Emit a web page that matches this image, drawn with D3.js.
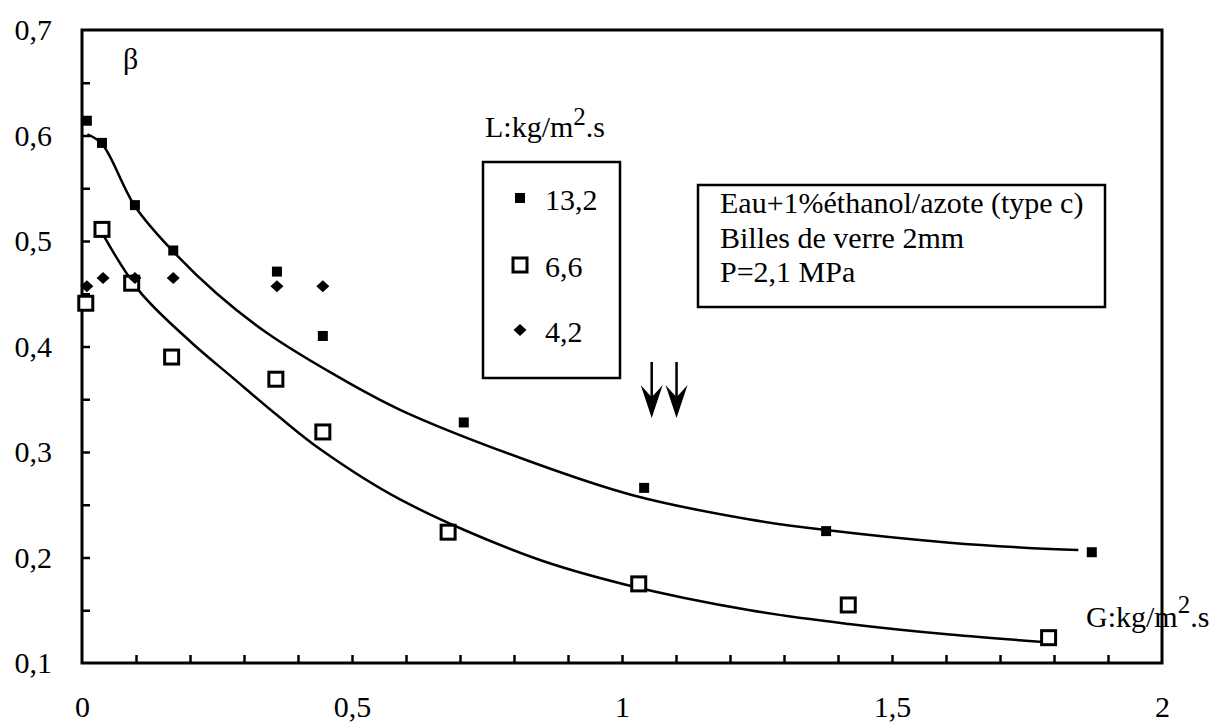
<!DOCTYPE html>
<html>
<head>
<meta charset="utf-8">
<script src="https://cdn.jsdelivr.net/npm/d3@7"></script>
<style>
  html, body { margin: 0; padding: 0; background: #fff; }
  svg { display: block; }
</style>
</head>
<body>
<svg id="chart" width="1217" height="724"></svg>
<script>
// ---- data ----
const seriesNames = ["13,2", "6,6", "4,2"];

const g13 = [0.009, 0.037, 0.098, 0.169, 0.361, 0.446, 0.707, 1.041, 1.378, 1.870];
const b13 = [0.614, 0.593, 0.534, 0.491, 0.471, 0.410, 0.328, 0.266, 0.225, 0.205];

const g66 = [0.007, 0.037, 0.092, 0.166, 0.359, 0.446, 0.678, 1.031, 1.419, 1.790];
const b66 = [0.441, 0.511, 0.460, 0.390, 0.369, 0.319, 0.224, 0.175, 0.155, 0.124];

const g42 = [0.009, 0.039, 0.098, 0.169, 0.361, 0.446];
const b42 = [0.457, 0.465, 0.465, 0.465, 0.457, 0.457];

// hand-drawn fitted curves
const fitUpperG = [0.010, 0.037, 0.098, 0.169, 0.250, 0.342, 0.465, 0.589, 0.835, 1.020, 1.237, 1.378, 1.607, 1.793, 1.845];
const fitUpperB = [0.601, 0.592, 0.533, 0.490, 0.450, 0.413, 0.374, 0.340, 0.290, 0.259, 0.236, 0.226, 0.214, 0.208, 0.207];
const fitLowerG = [0.039, 0.107, 0.200, 0.280, 0.361, 0.440, 0.589, 0.835, 1.009, 1.237, 1.420, 1.607, 1.780];
const fitLowerB = [0.506, 0.452, 0.405, 0.370, 0.335, 0.303, 0.255, 0.200, 0.174, 0.150, 0.137, 0.127, 0.120];

const xTickValues = [0, 0.5, 1, 1.5, 2];
const xTickLabels = ["0", "0,5", "1", "1,5", "2"];
const yTickValues = [0.1, 0.2, 0.3, 0.4, 0.5, 0.6, 0.7];
const yTickLabels = ["0,1", "0,2", "0,3", "0,4", "0,5", "0,6", "0,7"];
const xMinorTicks = d3.range(1, 20).map(i => i / 10);
const yMinorTicks = d3.range(3, 14).map(i => i / 20);

const arrowsG = [1.055, 1.101];
const infoLines = ["Eau+1%éthanol/azote (type c)", "Billes de verre 2mm", "P=2,1 MPa"];

// ---- layout ----
const FONT = '"Liberation Serif"';
const FS = 30;
const svg = d3.select("#chart").attr("font-family", FONT);
const x = d3.scaleLinear().domain([0, 2]).range([82, 1162]);
const y = d3.scaleLinear().domain([0.1, 0.7]).range([663, 30]);

function txt(sel, xp, yp, size) {
  return sel.append("text").attr("x", xp).attr("y", yp)
    .attr("font-family", FONT).attr("font-size", size || FS).attr("fill", "#000");
}

// frame
svg.append("rect")
  .attr("x", x(0)).attr("y", y(0.7))
  .attr("width", x(2) - x(0)).attr("height", y(0.1) - y(0.7))
  .attr("fill", "none").attr("stroke", "#000").attr("stroke-width", 3);

// minor inward ticks
const tickY = svg.append("g").attr("transform", `translate(${x(0)},0)`)
  .call(d3.axisRight(y).tickValues(yMinorTicks).tickSize(8).tickFormat(""));
tickY.select(".domain").remove();
tickY.selectAll("line").attr("stroke-width", 2.5);

const tickX = svg.append("g").attr("transform", `translate(0,${y(0.1)})`)
  .call(d3.axisTop(x).tickValues(xMinorTicks).tickSize(8).tickFormat(""));
tickX.select(".domain").remove();
tickX.selectAll("line").attr("stroke-width", 2.5);

// tick labels
const labY = svg.append("g").attr("transform", `translate(${x(0)},0)`)
  .call(d3.axisLeft(y).tickValues(yTickValues).tickSize(0).tickPadding(30)
    .tickFormat((d, i) => yTickLabels[i]));
labY.select(".domain").remove();
labY.attr("font-family", FONT).attr("font-size", FS);
labY.selectAll("text").attr("font-family", FONT).attr("font-size", FS);

const labX = svg.append("g").attr("transform", `translate(0,${y(0.1)})`)
  .call(d3.axisBottom(x).tickValues(xTickValues).tickSize(0).tickPadding(33)
    .tickFormat((d, i) => xTickLabels[i]));
labX.select(".domain").remove();
labX.attr("font-family", FONT).attr("font-size", FS);
labX.selectAll("text").attr("font-family", FONT).attr("font-size", FS);

// axis names
txt(svg, 123, 69).text("β");
const gl = txt(svg, 1086, 627);
gl.append("tspan").text("G:kg/m");
gl.append("tspan").attr("dy", -14).attr("font-size", 25).text("2");
gl.append("tspan").attr("dy", 14).text(".s");

// fitted curves
const line = d3.line().x(d => x(d[0])).y(d => y(d[1])).curve(d3.curveCatmullRom.alpha(0.5));
[[fitUpperG, fitUpperB], [fitLowerG, fitLowerB]].forEach(([gs, bs]) => {
  svg.append("path")
    .attr("d", line(gs.map((g, i) => [g, bs[i]])))
    .attr("fill", "none").attr("stroke", "#000").attr("stroke-width", 2.5);
});

// markers
function openSquare(sel, cx, cy) {
  sel.append("rect").attr("x", cx - 7).attr("y", cy - 7).attr("width", 14).attr("height", 14)
    .attr("fill", "#fff").attr("stroke", "#000").attr("stroke-width", 3);
}
function filledSquare(sel, cx, cy) {
  sel.append("rect").attr("x", cx - 5).attr("y", cy - 5).attr("width", 10).attr("height", 10)
    .attr("fill", "#000");
}
function diamond(sel, cx, cy) {
  sel.append("path").attr("d", `M${cx},${cy - 6}L${cx + 6.5},${cy}L${cx},${cy + 6}L${cx - 6.5},${cy}Z`)
    .attr("fill", "#000");
}
const marks = svg.append("g");
g66.forEach((g, i) => openSquare(marks, x(g), y(b66[i])));
g13.forEach((g, i) => filledSquare(marks, x(g), y(b13[i])));
g42.forEach((g, i) => diamond(marks, x(g), y(b42[i])));

// arrows
arrowsG.forEach(g => {
  const ax = x(g);
  svg.append("line").attr("x1", ax).attr("x2", ax).attr("y1", 362).attr("y2", 400)
    .attr("stroke", "#000").attr("stroke-width", 2.5);
  svg.append("path")
    .attr("d", `M${ax},418 L${ax - 11},385 Q${ax - 3},394 ${ax},397 Q${ax + 3},394 ${ax + 11},385 Z`)
    .attr("fill", "#000");
});

// legend
const lt = txt(svg, 485, 137);
lt.append("tspan").text("L:kg/m");
lt.append("tspan").attr("dy", -12).attr("font-size", 25).text("2");
lt.append("tspan").attr("dy", 12).text(".s");
svg.append("rect").attr("x", 483).attr("y", 162).attr("width", 137).attr("height", 216)
  .attr("fill", "#fff").attr("stroke", "#000").attr("stroke-width", 2.5);
const legY = [198, 265, 330];
const legDraw = [filledSquare, openSquare, diamond];
seriesNames.forEach((name, i) => {
  legDraw[i](svg, 520, legY[i]);
  txt(svg, 545, legY[i] + 12).text(name);
});

// info box
svg.append("rect").attr("x", 698).attr("y", 185).attr("width", 407).attr("height", 122)
  .attr("fill", "#fff").attr("stroke", "#000").attr("stroke-width", 2.5);
infoLines.forEach((t, i) => {
  txt(svg, 720, 213 + i * 34.5).text(t);
});
</script>
</body>
</html>
